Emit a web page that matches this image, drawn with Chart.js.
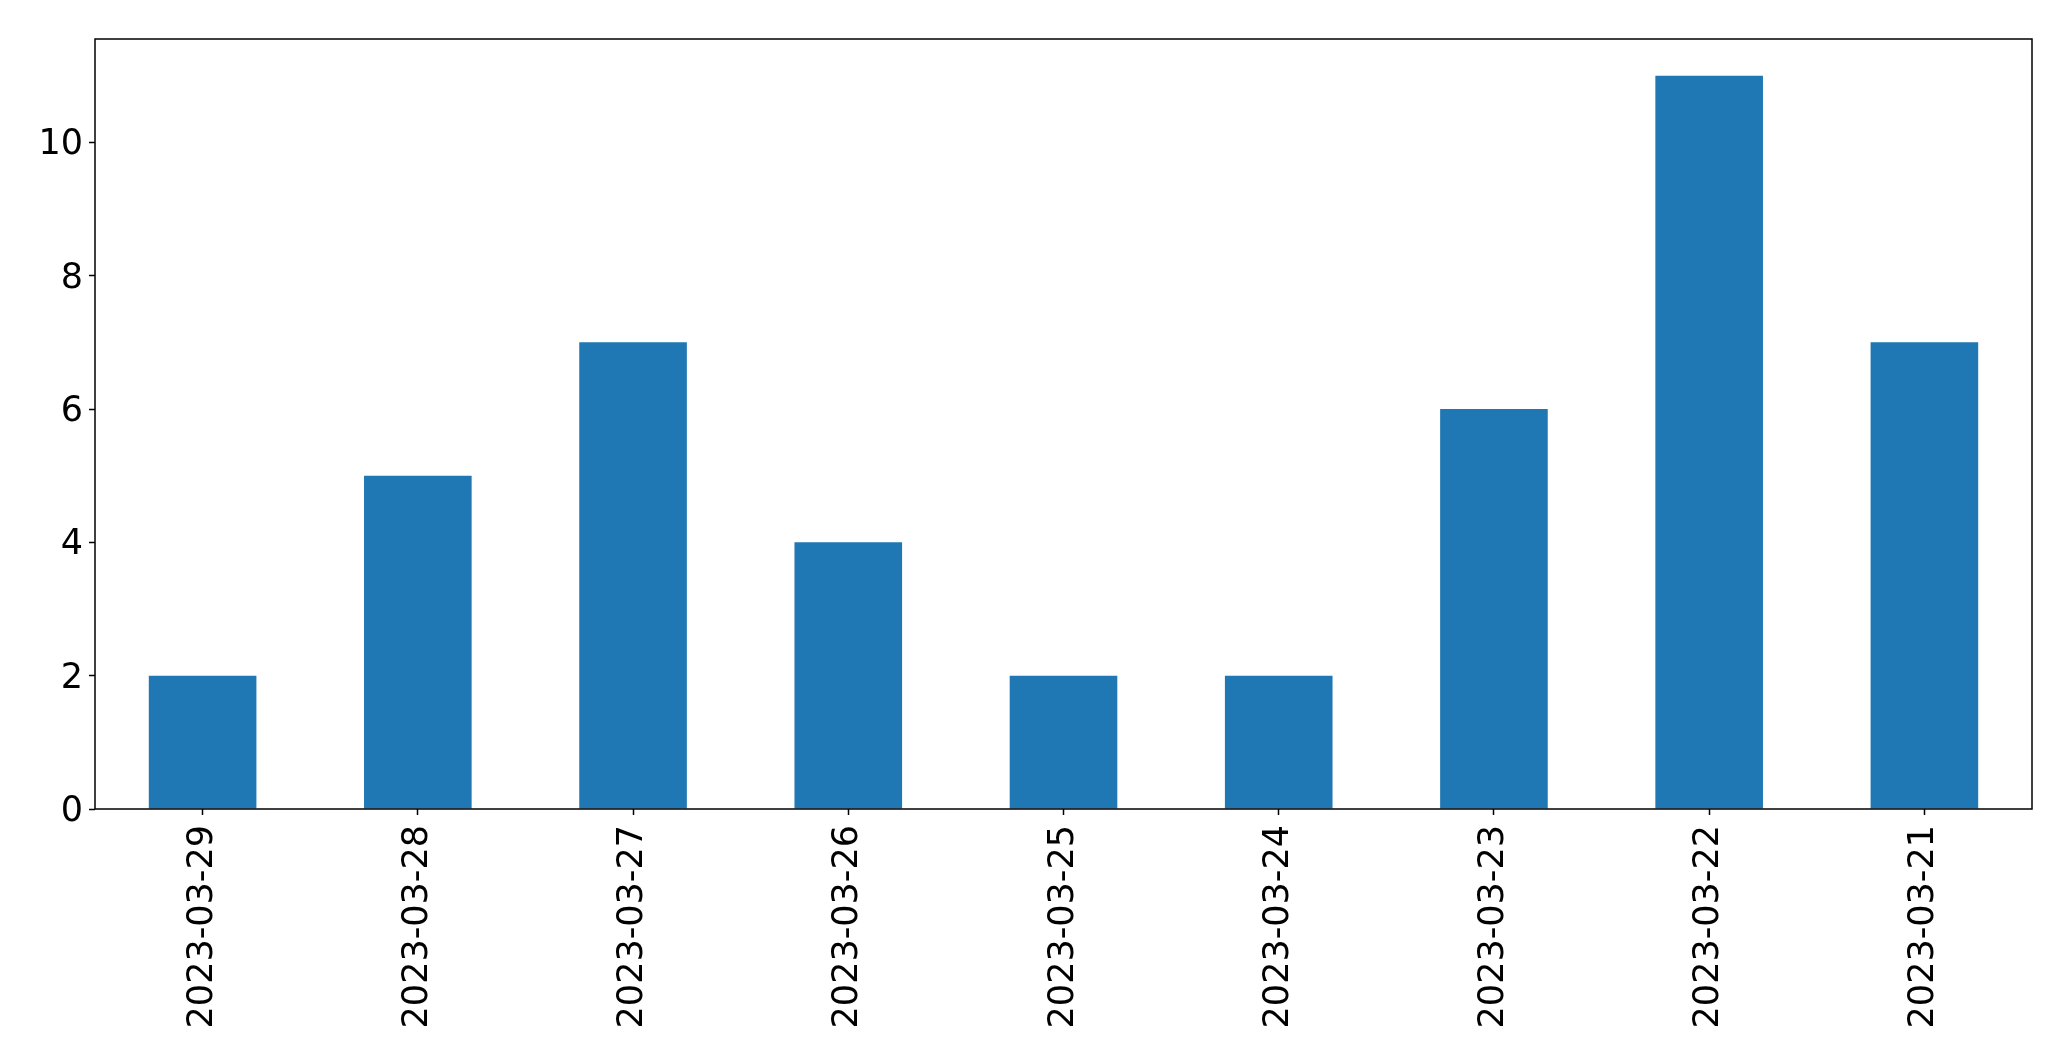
<!DOCTYPE html>
<html>
<head>
<meta charset="utf-8">
<script src="https://cdn.jsdelivr.net/npm/chart.js@4/dist/chart.umd.min.js"></script>
<style>
html,body{margin:0;padding:0;background:#fff;}
#wrap{width:2071px;height:1061px;}
</style>
</head>
<body>
<div id="wrap"><canvas id="c" width="2071" height="1061"></canvas></div>
<script>
const categories = ["2023-03-29","2023-03-28","2023-03-27","2023-03-26","2023-03-25","2023-03-24","2023-03-23","2023-03-22","2023-03-21"];
const counts = [2,5,7,4,2,2,6,11,7];
const yTicks = [0,2,4,6,8,10];

const frame = {
  id:'frame',
  afterDraw(chart){
    const a = chart.chartArea, ctx = chart.ctx;
    ctx.save();
    ctx.strokeStyle = '#000';
    ctx.lineWidth = 1.5;
    ctx.strokeRect(a.left, a.top, a.right - a.left, a.bottom - a.top);
    ctx.restore();
  }
};

const font = {family:'"DejaVu Sans", sans-serif', size:35};

new Chart(document.getElementById('c'), {
  type:'bar',
  data:{
    labels: categories,
    datasets:[{
      data: counts,
      backgroundColor:'#1f77b4',
      borderWidth:0,
      barPercentage:0.5,
      categoryPercentage:1.0
    }]
  },
  options:{
    responsive:false,
    animation:false,
    devicePixelRatio:1,
    layout:{padding:{top:39, right:39, left:0, bottom:0}},
    plugins:{legend:{display:false}, tooltip:{enabled:false}},
    scales:{
      x:{
        offset:true,
        grid:{display:true, offset:false, drawOnChartArea:false, drawTicks:true, tickLength:6, tickColor:'#000', tickWidth:1.5},
        border:{display:false},
        ticks:{color:'#000', font:font, minRotation:90, maxRotation:90, padding:10, autoSkip:false},
        afterFit(s){ s.height = 1061 - 809; }
      },
      y:{
        min:0, max:11.55,
        grid:{display:true, drawOnChartArea:false, drawTicks:true, tickLength:6, tickColor:'#000', tickWidth:1.5},
        border:{display:false},
        afterBuildTicks(s){ s.ticks = yTicks.map(v=>({value:v})); },
        ticks:{color:'#000', font:font, padding:6, includeBounds:false, labelOffset:3},
        afterFit(s){ s.width = 95; }
      }
    }
  },
  plugins:[frame]
});
</script>
</body>
</html>
